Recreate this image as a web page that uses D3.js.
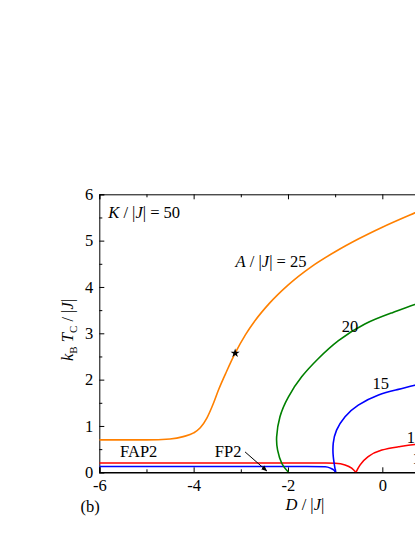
<!DOCTYPE html>
<html><head><meta charset="utf-8">
<script src="https://cdn.jsdelivr.net/npm/d3@7"></script>
<style>
html,body{margin:0;padding:0;background:#fff;overflow:hidden;}
svg{display:block;}
svg text{font-family:"Liberation Serif","Times New Roman","DejaVu Serif",serif;fill:#000;}
.ax path,.ax line{stroke:#000;}
</style>
</head><body>
<svg id="c" width="415" height="537"></svg>
<script>
// ---- data (D/|J|, kBTc/|J|) ----
const orangeD = [-6, -5, -4.5, -4.22, -4.0, -3.86, -3.72, -3.58, -3.48, -3.3, -3.12, -2.9, -2.7, -2.4, -2.0, -1.5, -1.0, -0.5, 0.0, 0.69, 1.2];
const orangeT = [0.70, 0.70, 0.72, 0.77, 0.85, 0.96, 1.17, 1.49, 1.76, 2.18, 2.57, 2.97, 3.27, 3.64, 4.04, 4.44, 4.76, 5.04, 5.29, 5.60, 5.82];
const greenD = [-1.99, -2.13, -2.22, -2.24, -2.17, -1.99, -1.71, -1.36, -0.93, -0.37, 0.2, 0.69, 1.2];
const greenT = [0.0, 0.19, 0.48, 0.77, 1.2, 1.63, 2.06, 2.45, 2.84, 3.2, 3.44, 3.62, 3.79];
const blueFlatD = [-6, -3, -1.6, -1.21, -1.1, -1.03, -0.99];
const blueFlatT = [0.125, 0.125, 0.125, 0.12, 0.09, 0.05, 0.0];
const blueD = [-0.99, -1.04, -1.04, -0.97, -0.79, -0.51, -0.08, 0.34, 0.69, 1.2];
const blueT = [0.0, 0.34, 0.63, 0.91, 1.2, 1.45, 1.67, 1.79, 1.88, 1.99];
const redFlatD = [-6, -3, -1.2, -1.0, -0.79, -0.65, -0.56];
const redFlatT = [0.2, 0.2, 0.2, 0.195, 0.16, 0.09, 0.0];
const redD = [-0.56, -0.47, -0.3, -0.01, 0.34, 0.69, 1.2];
const redT = [0.0, 0.16, 0.34, 0.48, 0.55, 0.60, 0.65];
const starPoint = [-3.12, 2.57];
const xMajor = [-6, -4, -2, 0, 2];
const xLabels = [-6, -4, -2, 0];
const xMinor = [-5, -3, -1, 1];
const yMajor = [0, 1, 2, 3, 4, 5, 6];
const yMinor = [0.5, 1.5, 2.5, 3.5, 4.5, 5.5];

const FS = 16.5;
const svg = d3.select("#c");
const x = d3.scaleLinear().domain([-6, 2]).range([99.3, 99.3 + 8 * 47.17]);
const y = d3.scaleLinear().domain([0, 6]).range([472.3, 194.3]);
const X0 = x.range()[0], X1 = x.range()[1], Y0 = y.range()[0], Y1 = y.range()[1];
const SERIF = '"Liberation Serif","Times New Roman",serif';

// axes
const fmt = d => String(d);
function styleAx(g) {
  g.attr("font-family", SERIF).attr("font-size", FS);
  g.selectAll("text").attr("font-family", SERIF).attr("font-size", FS);
}
svg.append("g").attr("class", "ax").attr("transform", `translate(0,${Y0})`)
  .call(d3.axisBottom(x).tickValues(xLabels).tickSize(-5).tickPadding(7).tickFormat(fmt))
  .call(styleAx)
  .call(g => g.select(".domain").attr("stroke-width", 1.6));
svg.append("g").attr("class", "ax").attr("transform", `translate(0,${Y0})`)
  .call(d3.axisBottom(x).tickValues(xMinor.concat([2])).tickSize(-3).tickFormat(""))
  .call(g => g.select(".domain").remove());
svg.append("g").attr("class", "ax").attr("transform", `translate(0,${Y1})`)
  .call(d3.axisTop(x).tickValues(xMajor).tickSize(-5).tickFormat(""));
svg.append("g").attr("class", "ax").attr("transform", `translate(0,${Y1})`)
  .call(d3.axisTop(x).tickValues(xMinor).tickSize(-3).tickFormat(""))
  .call(g => g.select(".domain").remove());
svg.append("g").attr("class", "ax").attr("transform", `translate(${X0},0)`)
  .call(d3.axisLeft(y).tickValues(yMajor).tickSize(-5).tickPadding(6).tickFormat(fmt))
  .call(styleAx);
svg.append("g").attr("class", "ax").attr("transform", `translate(${X0},0)`)
  .call(d3.axisLeft(y).tickValues(yMinor).tickSize(-3).tickFormat(""))
  .call(g => g.select(".domain").remove());
svg.append("g").attr("class", "ax").attr("transform", `translate(${X1},0)`)
  .call(d3.axisRight(y).tickValues(yMajor).tickSize(-5).tickFormat(""));

// curves
svg.append("clipPath").attr("id", "pc").append("rect")
  .attr("x", X0).attr("y", Y1 - 2).attr("width", X1 - X0).attr("height", Y0 - Y1 + 2);
const zip = (a, b) => a.map((v, i) => [v, b[i]]);
const lineMono = d3.line().x(d => x(d[0])).y(d => y(d[1])).curve(d3.curveMonotoneX);
const lineParam = d3.line().x(d => x(d[0])).y(d => y(d[1])).curve(d3.curveNatural);
const gC = svg.append("g").attr("clip-path", "url(#pc)");
function draw(D, T, col, gen) {
  gC.append("path").attr("d", gen(zip(D, T))).attr("fill", "none")
    .attr("stroke", col).attr("stroke-width", 1.6);
}
draw(redFlatD, redFlatT, "#ff0000", lineMono);
draw(redD, redT, "#ff0000", lineParam);
draw(blueFlatD, blueFlatT, "#0000ff", lineMono);
draw(blueD, blueT, "#0000ff", lineParam);
draw(greenD, greenT, "#008000", lineParam);
draw(orangeD, orangeT, "#ff8000", lineMono);

// star
svg.append("path").attr("d", d3.symbol(d3.symbolStar, 26)())
  .attr("transform", `translate(${x(starPoint[0])},${y(starPoint[1])})`).attr("fill", "#000");

// arrow
svg.append("defs").append("marker").attr("id", "ah").attr("viewBox", "0 0 10 10")
  .attr("refX", 9).attr("refY", 5).attr("markerWidth", 6).attr("markerHeight", 6)
  .attr("orient", "auto").append("path").attr("d", "M0,1 L10,5 L0,9 Z").attr("fill", "#000");
svg.append("line").attr("x1", x(-2.91)).attr("y1", y(0.44)).attr("x2", x(-2.45)).attr("y2", y(0.03))
  .attr("stroke", "#000").attr("stroke-width", 1).attr("marker-end", "url(#ah)");

// text helpers
function rich(xp, yp, parts, size, anchor) {
  const t = svg.append("text").attr("x", xp).attr("y", yp).attr("font-size", size)
    .attr("font-family", SERIF).attr("text-anchor", anchor || "start");
  parts.forEach(p => {
    const s = t.append("tspan").text(p[0]);
    if (p[1] === "i") s.attr("font-style", "italic");
  });
  return t;
}
rich(x(-5.81), y(5.49), [["K", "i"], [" / |"], ["J", "i"], ["| = 50"]], FS);
rich(x(-3.11), y(4.43), [["A", "i"], [" / |"], ["J", "i"], ["| = 25"]], FS);
rich(x(-0.86), y(3.03), [["20"]], FS);
rich(x(-0.21), y(1.79), [["15"]], FS);
rich(x(0.52), y(0.64), [["12"]], FS);
rich(x(0.64), y(0.18), [["10"]], FS);
rich(x(-5.56), y(0.34), [["FAP2"]], FS);
rich(x(-3.55), y(0.34), [["FP2"]], FS);
rich(80.5, 511.5, [["(b)"]], FS);
rich(x(-1.64), 510, [["D", "i"], [" / |"], ["J", "i"], ["|"]], FS, "middle");
// y title
const yt = svg.append("text").attr("transform", "translate(73,330) rotate(-90)")
  .attr("text-anchor", "middle").attr("font-size", FS).attr("font-family", SERIF);
yt.append("tspan").text("k").attr("font-style", "italic");
yt.append("tspan").text("B").attr("font-size", 11).attr("dy", 4);
yt.append("tspan").text(" T").attr("font-style", "italic").attr("dy", -4);
yt.append("tspan").text("C").attr("font-size", 11).attr("dy", 4);
yt.append("tspan").text(" / |").attr("dy", -4);
yt.append("tspan").text("J").attr("font-style", "italic");
yt.append("tspan").text("|");
</script>
</body></html>
